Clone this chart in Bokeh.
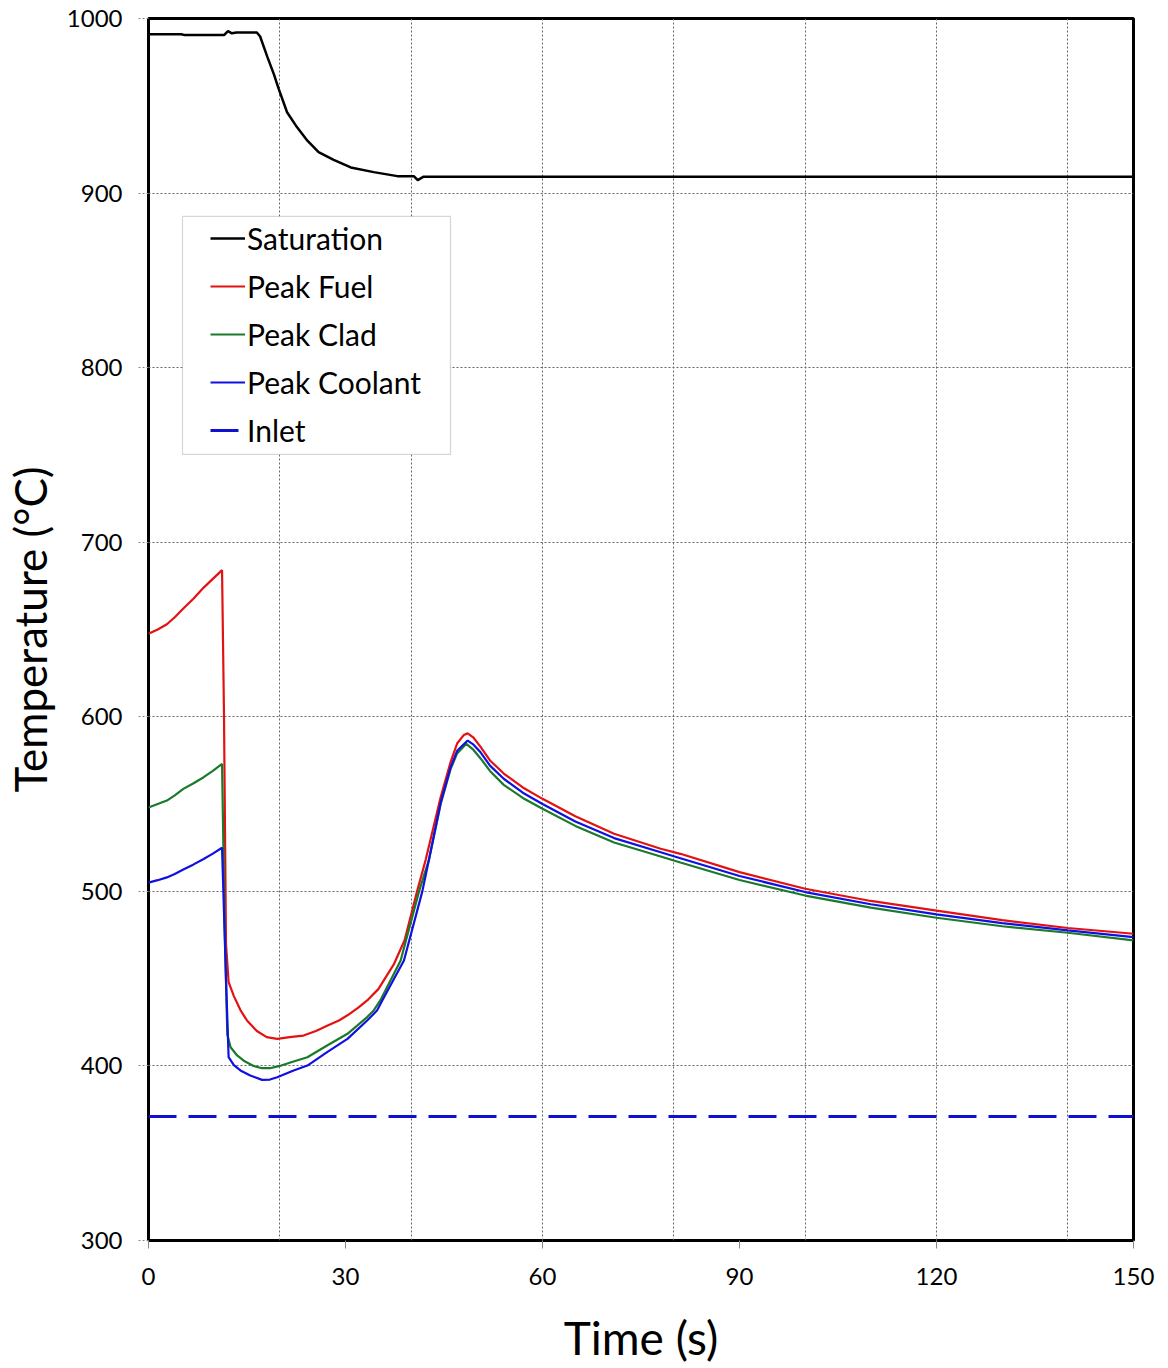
from bokeh.plotting import figure
from bokeh.models import FixedTicker, Legend, LegendItem, BoxAnnotation
from bokeh.embed import file_html
from bokeh.resources import INLINE

# ---- data ----
sat_t = [0, 5, 5.5, 11.5, 12.1, 12.7, 13.4, 16.5, 17.0, 18.1, 19.1, 19.8, 21.1, 22.6, 24.2, 25.9,
         28.2, 30.8, 34.3, 37.9, 40.4, 41.0, 41.9, 52.5, 90, 120, 150]
sat_T = [991.0, 991.0, 990.5, 990.5, 992.8, 991.5, 992.0, 992.0, 989.7, 978.0, 968.0, 960.0, 946.3,
         937.8, 930.0, 923.4, 919.0, 914.7, 912.0, 909.7, 909.7, 907.4, 909.4, 909.4, 909.3, 909.3, 909.3]

fuel_t = [0, 1.4, 2.8, 4.0, 5.3, 6.8, 8.4, 9.8, 11.2, 11.5, 11.8, 12.2, 13, 14, 15, 16.5, 18, 19.6,
          21.5, 23.6, 25.5, 27.2, 29, 30.3, 32, 33.3, 35, 37.4, 39, 40.9, 42.2, 44.5, 46, 47, 48,
          48.6, 49.5, 50.6, 52, 54.1, 57, 60, 65, 70.9, 78, 81, 90, 100, 110, 120, 130, 140, 150]
fuel_T = [647.5, 650, 653, 657, 662, 667.5, 674, 679, 684, 600, 470, 448, 440, 432, 426, 420, 416.5,
          415.5, 416.5, 417.4, 420, 423, 426, 429, 433.5, 437.5, 444, 458.5, 472, 500, 518, 554,
          574, 584.7, 589.5, 590.5, 588, 582.6, 575, 567.5, 559.5, 553, 543, 533, 524.4, 521.5,
          511, 501.5, 494.5, 489, 483.5, 479, 475.7]

clad_t = [0, 1.4, 2.8, 4.0, 5.3, 6.8, 8.4, 9.8, 11.2, 11.6, 12.0, 12.5, 13.5, 14.5, 16, 17.3, 18.5,
          20, 21.6, 24.2, 27.2, 30.3, 33.3, 34.3, 35.3, 38.4, 41.2, 42.7, 44.5, 46, 47, 48.4, 49.5,
          50.6, 52, 54.1, 57, 60, 65, 70.9, 78, 81, 90, 100, 110, 120, 130, 140, 150]
clad_T = [548, 550, 552, 555, 558.7, 561.8, 565.4, 569, 573, 480, 418, 410.7, 406, 403, 400, 398.7,
          398.7, 400, 402, 405, 411.7, 418.4, 428, 431.8, 437.5, 460.4, 500, 518, 550, 570, 579,
          584.5, 581, 576, 569, 561, 553.5, 547.3, 537.5, 528, 520, 516.5, 506.5, 497.6, 490.7,
          484.9, 480, 476.3, 471.9]

cool_t = [0, 1.4, 2.8, 4.0, 5.3, 6.8, 8.4, 9.8, 11.2, 11.8, 12.2, 13, 14, 15.5, 17.3, 18.5, 19.6,
          22.1, 24.2, 27.2, 30.3, 33.3, 34.8, 35.6, 38.9, 41.7, 42.7, 44.5, 46, 47, 48.6, 49.5,
          50.6, 52, 54.1, 57, 60, 65, 70.9, 78, 81, 90, 100, 110, 120, 130, 140, 150]
cool_T = [505, 506.4, 508, 510, 512.5, 515.3, 518.5, 521.6, 525, 450, 405, 400.5, 397.4, 394.5, 392,
          392.2, 393.5, 397.4, 400.2, 407.9, 415.5, 426, 431.8, 437.5, 460.4, 500, 518, 551, 571,
          580.5, 586.4, 584, 579.5, 572, 564.5, 556.5, 550, 540, 530.5, 522.4, 519, 508.8, 499.6,
          492.6, 486.8, 481.8, 477.6, 473.8]

inlet_t = [0, 150]
inlet_T = [371, 371]

x_ticks = [0, 30, 60, 90, 120, 150]
x_grid = [20, 40, 60, 80, 100, 120, 140]
y_ticks = [300, 400, 500, 600, 700, 800, 900, 1000]

FONT = "Lato"

p = figure(frame_width=985, frame_height=1222, x_range=(0, 150), y_range=(300, 1000),
           output_backend="svg", toolbar_location=None,
           min_border_left=148, min_border_right=35, min_border_top=18, min_border_bottom=128)

p.background_fill_color = "white"
p.border_fill_color = "white"
p.outline_line_color = "black"
p.outline_line_width = 3

# grids
p.xgrid.ticker = FixedTicker(ticks=x_grid)
p.ygrid.ticker = FixedTicker(ticks=y_ticks)
for g in (p.xgrid, p.ygrid):
    g.grid_line_color = "#666666"
    g.grid_line_dash = "2 2"
    g.grid_line_width = 1

# axes
p.xaxis.ticker = FixedTicker(ticks=x_ticks)
p.yaxis.ticker = FixedTicker(ticks=y_ticks)
for ax in (p.xaxis, p.yaxis):
    ax.axis_line_color = None
    ax.minor_tick_line_color = None
    ax.major_tick_in = 0
    ax.major_tick_line_color = "#888888"
    ax.major_tick_line_width = 1
    ax.major_label_text_font = FONT
    ax.major_label_text_font_size = "24px"
    ax.major_label_text_color = "black"
    ax.axis_label_text_font = FONT
    ax.axis_label_text_font_style = "normal"
    ax.axis_label_text_color = "black"

p.xaxis.major_tick_out = 8
p.xaxis.major_label_standoff = 19
p.xaxis.axis_label = "Time (s)"
p.xaxis.axis_label_standoff = 22
p.xaxis.axis_label_text_font_size = "46px"

p.yaxis.major_tick_out = 10
p.yaxis.major_tick_line_dash = "2 2"
p.yaxis.major_label_standoff = 16
p.yaxis.axis_label = "Temperature (°C)"
p.yaxis.axis_label_standoff = 8
p.yaxis.axis_label_text_font_size = "44px"

# series
r_sat = p.line(sat_t, sat_T, line_color="black", line_width=2.5)
r_fuel = p.line(fuel_t, fuel_T, line_color="#e31212", line_width=2.2)
r_clad = p.line(clad_t, clad_T, line_color="#1a7a2a", line_width=2.2)
r_cool = p.line(cool_t, cool_T, line_color="#1010e0", line_width=2.2)
r_inlet = p.line(inlet_t, inlet_T, line_color="#1010d0", line_width=3, line_dash="28 12")

# legend frame
box = BoxAnnotation(left=5.18, right=45.99, top=886.6, bottom=750.3,
                    fill_color="white", fill_alpha=1.0,
                    line_color="#777777", line_width=1.2)
p.add_layout(box)

legend = Legend(items=[
    LegendItem(label="Saturation", renderers=[r_sat]),
    LegendItem(label="Peak Fuel", renderers=[r_fuel]),
    LegendItem(label="Peak Clad", renderers=[r_clad]),
    LegendItem(label="Peak Coolant", renderers=[r_cool]),
    LegendItem(label="Inlet", renderers=[r_inlet]),
], location=(62, 1222 - 198 - 238))
legend.border_line_color = None
legend.background_fill_alpha = 0
legend.padding = 0
legend.margin = 0
legend.spacing = 0
legend.glyph_width = 35
legend.glyph_height = 48
legend.label_height = 48
legend.label_standoff = 2
legend.label_text_font = FONT
legend.label_text_font_size = "30px"
legend.label_text_color = "black"
legend.click_policy = "none"
p.add_layout(legend)

open("out.html", "w").write(file_html(p, INLINE))
